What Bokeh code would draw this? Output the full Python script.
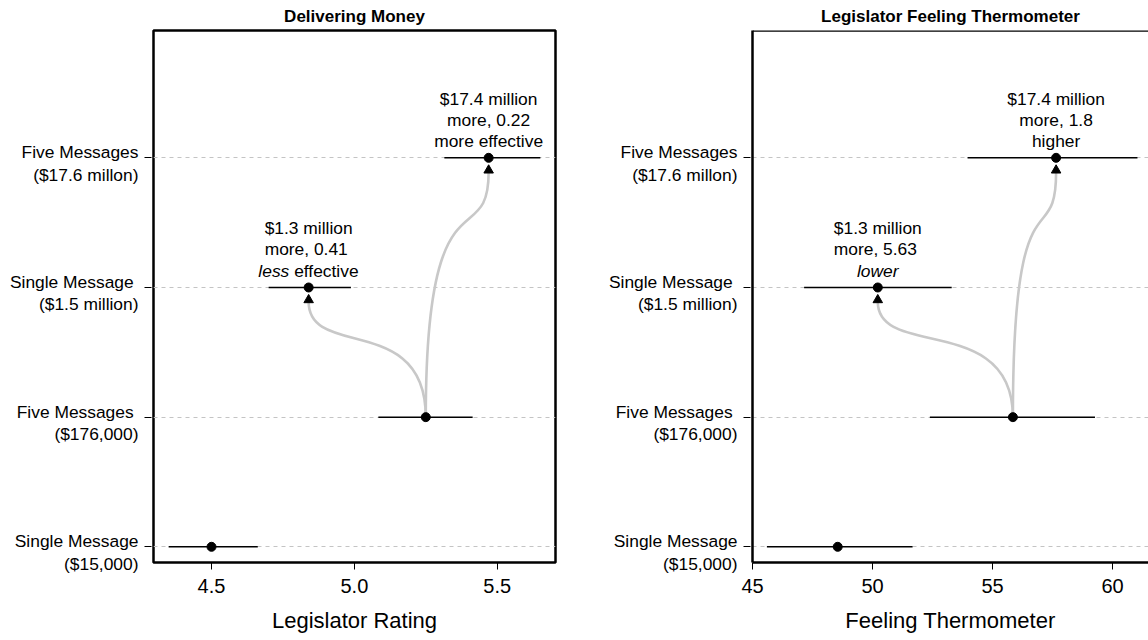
from bokeh.plotting import figure
from bokeh.models import Label, Span, FixedTicker, Range1d, LinearAxis
from bokeh.layouts import row
from bokeh.embed import file_html
from bokeh.resources import INLINE

FONT = "Liberation Sans"
FS = 17.4  # text size used for labels and notes

# Treatment conditions, bottom to top
cond_pos = [1, 2, 3, 4]
cond_line1 = ["Single Message", "Five Messages ", "Single Message ", "Five Messages"]
cond_line2 = ["($15,000)", "($176,000)", "($1.5 million)", "($17.6 millon)"]

# Delivering Money: legislator rating, estimate and interval
rating_est = [4.50, 5.25, 4.84, 5.47]
rating_lo = [4.35, 5.084, 4.70, 5.315]
rating_hi = [4.662, 5.414, 4.988, 5.651]
rating_ticks = [4.5, 5.0, 5.5]
rating_tick_labels = ["4.5", "5.0", "5.5"]

# Legislator feeling thermometer, estimate and interval
therm_est = [48.55, 55.85, 50.22, 57.65]
therm_lo = [45.6, 52.39, 47.15, 53.96]
therm_hi = [51.67, 59.27, 53.3, 61.04]
therm_ticks = [45, 50, 55, 60]
therm_tick_labels = ["45", "50", "55", "60"]

# Comparisons: arrow from the five-message $176,000 condition to a costlier one
arrow_from = 1
rating_notes = {
    2: [[("$1.3 million", "normal")], [(" more, 0.41", "normal")],
        [("less", "italic"), (" effective", "normal")]],
    3: [[("$17.4 million", "normal")], [("more, 0.22", "normal")],
        [("more effective", "normal")]],
}
therm_notes = {
    2: [[("$1.3 million", "normal")], [(" more, 5.63", "normal")],
        [("lower", "italic")]],
    3: [[("$17.4 million", "normal")], [("more, 1.8", "normal")],
        [("higher", "normal")]],
}

# curve shape per target: (start control share, end control share)
CURVE_SHAPE = {2: (0.907, 0.5), 3: (1.04, 0.338)}
ARROW_GAP = 0.11
NOTE_OFFSETS = [59, 38, 16.5]
LABEL_DROP = 0.044  # two-line condition names sit a little below their tick

# Helvetica/Arial advance widths (1/1000 em) for lower-case text and space
_WIDTHS = dict(zip("abcdefghijklmnopqrstuvwxyz ",
                   [556, 556, 500, 556, 556, 278, 556, 556, 222, 222, 500, 222, 833,
                    556, 556, 556, 556, 333, 500, 278, 556, 500, 722, 500, 500, 500, 278]))


def text_width(s, size):
    return sum(_WIDTHS.get(c, 556) for c in s) * size / 1000.0


def make_panel(title, est, lo, hi, ticks, tick_labels, xlabel, x0, x1, frame_w,
               border_left, border_right, notes, boxed):
    p = figure(frame_width=frame_w, frame_height=532,
               min_border_left=border_left, min_border_right=border_right,
               min_border_top=28, min_border_bottom=78,
               x_range=Range1d(x0, x1), y_range=Range1d(0.879, 4.982),
               output_backend="svg", toolbar_location=None,
               background_fill_color="white", border_fill_color="white")
    p.title.text = title
    p.title.align = "center"
    p.title.text_font = FONT
    p.title.text_font_size = "17px"
    p.title.text_font_style = "bold"
    p.title.text_color = "black"
    p.title.standoff = 9

    if boxed:
        p.outline_line_color = "black"
        p.outline_line_width = 2.5
        p.outline_line_alpha = 1.0
    else:
        p.outline_line_color = None

    # horizontal reference lines
    p.xgrid.visible = False
    p.ygrid.ticker = FixedTicker(ticks=cond_pos)
    p.ygrid.grid_line_color = "#c4c4c4"
    p.ygrid.grid_line_dash = "4 4"
    p.ygrid.grid_line_width = 1

    # x axis
    xa = p.xaxis[0]
    xa.ticker = FixedTicker(ticks=ticks)
    xa.major_label_overrides = {t: l for t, l in zip(ticks, tick_labels)}
    xa.minor_tick_line_color = None
    xa.major_tick_out = 7
    xa.major_tick_in = 0
    xa.major_tick_line_color = "black"
    xa.major_tick_line_width = 1
    xa.major_label_text_font = FONT
    xa.major_label_text_font_size = "20px"
    xa.major_label_text_color = "black"
    xa.major_label_standoff = 9
    xa.axis_label = xlabel
    xa.axis_label_text_font = FONT
    xa.axis_label_text_font_size = "22px"
    xa.axis_label_text_font_style = "normal"
    xa.axis_label_text_color = "black"
    xa.axis_label_standoff = 12

    # y axis: tick marks at each condition
    ya = p.yaxis[0]
    ya.ticker = FixedTicker(ticks=cond_pos)
    ya.major_label_overrides = {y: "" for y in cond_pos}
    ya.minor_tick_line_color = None
    ya.major_tick_out = 9
    ya.major_tick_in = -2
    ya.major_tick_line_color = "black"
    ya.major_tick_line_width = 1
    ya.major_label_text_font_size = "0px"
    ya.major_label_standoff = 5

    # condition names on two lines, set slightly below their tick
    name_ticks = [y - LABEL_DROP for y in cond_pos]
    names = LinearAxis(ticker=FixedTicker(ticks=name_ticks),
                       major_label_overrides={t: f"{a}\n{b}" for t, a, b in
                                              zip(name_ticks, cond_line1, cond_line2)},
                       axis_line_color=None, major_tick_line_color=None,
                       minor_tick_line_color=None, major_tick_out=0, major_tick_in=0,
                       major_label_standoff=6, major_label_text_font=FONT,
                       major_label_text_font_size=f"{FS}px",
                       major_label_text_line_height=1.12,
                       major_label_text_color="black")
    p.add_layout(names, "left")

    if boxed:
        xa.axis_line_color = None
        ya.axis_line_color = None
    else:
        xa.axis_line_color = "black"
        xa.axis_line_width = 2.5
        ya.axis_line_color = "black"
        ya.axis_line_width = 2.5
        p.add_layout(Span(location=4.982, dimension="width",
                          line_color="black", line_width=2.5))

    # curved arrows from the $176,000 condition
    xs0, ys0, xs1, ys1, cx0, cy0, cx1, cy1 = [], [], [], [], [], [], [], []
    tri_x, tri_y = [], []
    for idx in notes:
        sx, sy = est[arrow_from], cond_pos[arrow_from]
        ex, ey = est[idx], cond_pos[idx] - ARROW_GAP
        c0, c1 = CURVE_SHAPE[idx]
        xs0.append(sx); ys0.append(sy); xs1.append(ex); ys1.append(ey)
        cx0.append(sx); cy0.append(sy + c0 * (ey - sy))
        cx1.append(ex); cy1.append(ey - c1 * (ey - sy))
        tri_x.append(est[idx]); tri_y.append(cond_pos[idx] - 0.096)

    p.segment(lo, cond_pos, hi, cond_pos, line_color="black", line_width=1.5)
    p.bezier(x0=xs0, y0=ys0, x1=xs1, y1=ys1, cx0=cx0, cy0=cy0, cx1=cx1, cy1=cy1,
             line_color="#c8c8c8", line_width=2.6)
    p.scatter(tri_x, tri_y, marker="triangle", size=9.5, color="black")
    p.scatter(est, cond_pos, size=9, color="black")

    # notes above the compared conditions
    for idx, lines in notes.items():
        x, y = est[idx], cond_pos[idx]
        for segs, off in zip(lines, NOTE_OFFSETS):
            if len(segs) == 1:
                txt, style = segs[0]
                p.add_layout(Label(x=x, y=y, y_offset=off, text=txt, text_align="center",
                                   text_baseline="middle", text_font=FONT,
                                   text_font_size=f"{FS}px", text_font_style=style,
                                   text_color="black"))
            else:
                total = sum(text_width(t, FS) for t, _ in segs)
                start = -total / 2
                for txt, style in segs:
                    lead = len(txt) - len(txt.lstrip())
                    p.add_layout(Label(x=x, y=y, x_offset=start + text_width(" " * lead, FS),
                                       y_offset=off, text=txt.lstrip(),
                                       text_align="left", text_baseline="middle",
                                       text_font=FONT, text_font_size=f"{FS}px",
                                       text_font_style=style, text_color="black"))
                    start += text_width(txt, FS)
    return p


p1 = make_panel("Delivering Money", rating_est, rating_lo, rating_hi, rating_ticks,
                rating_tick_labels, "Legislator Rating", 4.297, 5.704, 402, 153, 19,
                rating_notes, True)
p2 = make_panel("Legislator Feeling Thermometer", therm_est, therm_lo, therm_hi, therm_ticks,
                therm_tick_labels, "Feeling Thermometer", 45.0, 45.0 + 396 / 24.0, 396, 178, 0,
                therm_notes, False)

layout = row(p1, p2)
open("out.html", "w").write(file_html(layout, INLINE))
